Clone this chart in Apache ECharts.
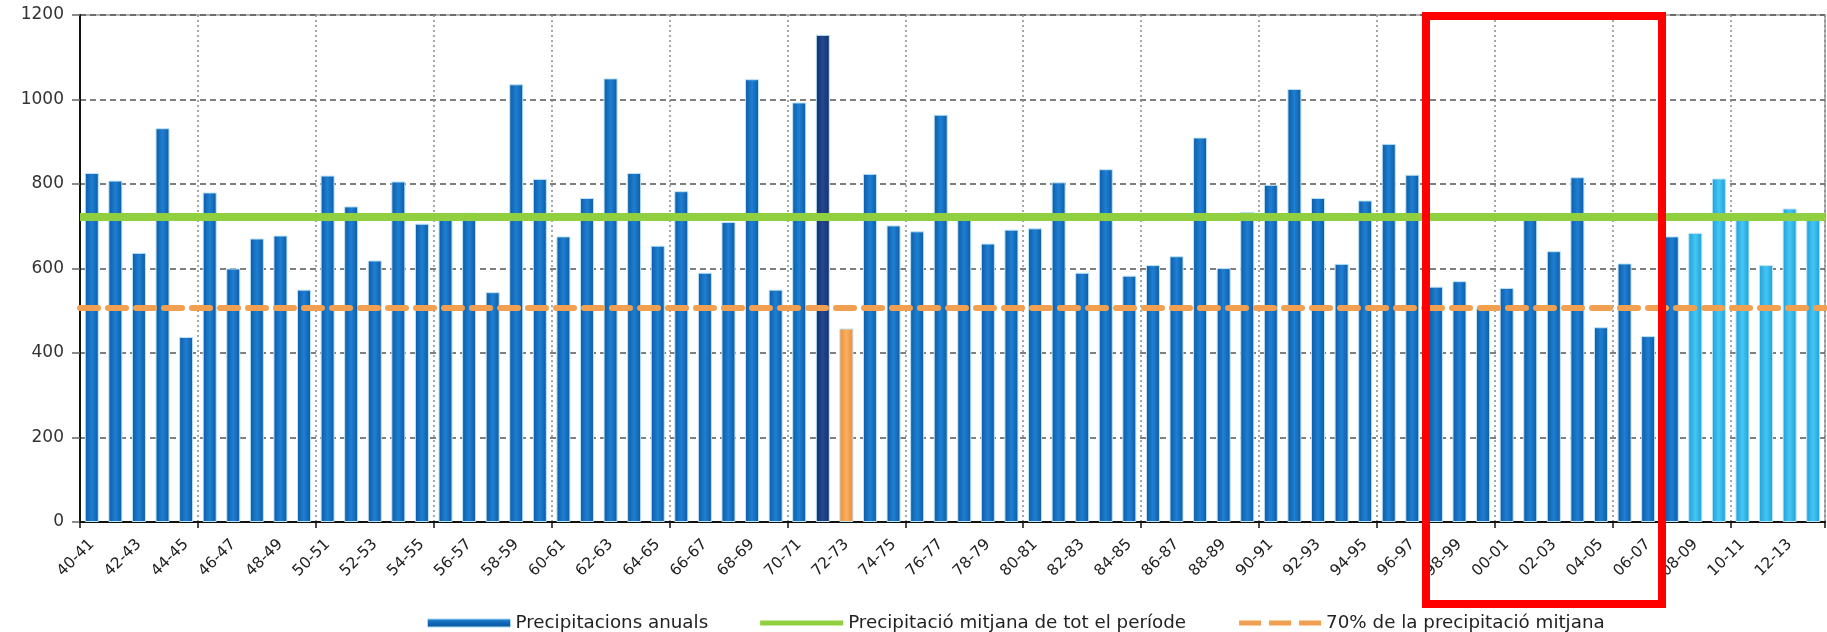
<!DOCTYPE html>
<html>
<head>
<meta charset="utf-8">
<script src="https://cdn.jsdelivr.net/npm/echarts@6/dist/echarts.min.js"></script>
<style>
html,body{margin:0;padding:0;background:#fff;}
#chart{width:1827px;height:632px;}
</style>
</head>
<body>
<div id="chart"></div>
<script>
const CATEGORIES = [
  '40-41','41-42','42-43','43-44','44-45','45-46','46-47','47-48','48-49','49-50',
  '50-51','51-52','52-53','53-54','54-55','55-56','56-57','57-58','58-59','59-60',
  '60-61','61-62','62-63','63-64','64-65','65-66','66-67','67-68','68-69','69-70',
  '70-71','71-72','72-73','73-74','74-75','75-76','76-77','77-78','78-79','79-80',
  '80-81','81-82','82-83','83-84','84-85','85-86','86-87','87-88','88-89','89-90',
  '90-91','91-92','92-93','93-94','94-95','95-96','96-97','97-98','98-99','99-00',
  '00-01','01-02','02-03','03-04','04-05','05-06','06-07','07-08','08-09','09-10',
  '10-11','11-12','12-13','13-14'
];
const PRECIP = [
  826, 808, 637, 932, 438, 780, 600, 671, 678, 550,
  820, 747, 619, 806, 706, 716, 732, 544, 1036, 812,
  676, 767, 1050, 826, 654, 783, 590, 710, 1048, 550,
  993, 1153, 458, 824, 702, 688, 964, 716, 659, 692,
  695, 804, 590, 835, 583, 608, 629, 910, 601, 734,
  798, 1025, 767, 611, 761, 895, 822, 557, 570, 507,
  554, 720, 641, 816, 461, 612, 440, 676, 684, 813,
  728, 608, 742, 725
];
const MEAN = 723;
const MEAN70 = 506;
const Y_MIN = 0, Y_MAX = 1200, Y_STEP = 200;
const SERIES_NAMES = ['Precipitacions anuals', 'Precipitació mitjana de tot el període', '70% de la precipitació mitjana'];
const DARK_YEAR = '71-72';
const ORANGE_YEAR = '72-73';
const LIGHT_FROM = '08-09';

const GREEN = '#90cf40';
const ORANGE = '#f0a050';

const G = echarts.graphic.LinearGradient;
const blueGrad = new G(0,0,1,0,[{offset:0,color:'#0b5aa5'},{offset:0.5,color:'#1f7fd2'},{offset:1,color:'#0b5aa5'}]);
const blueLegend = new G(0,0,0,1,[{offset:0,color:'#2a88d8'},{offset:0.5,color:'#0f64b4'},{offset:1,color:'#0b56a0'}]);
const navyGrad = new G(0,0,1,0,[{offset:0,color:'#14306b'},{offset:0.5,color:'#24478f'},{offset:1,color:'#14306b'}]);
const orangeGrad = new G(0,0,1,0,[{offset:0,color:'#ee8a32'},{offset:0.5,color:'#f9b060'},{offset:1,color:'#ee8a32'}]);
const cyanGrad = new G(0,0,1,0,[{offset:0,color:'#1a9fda'},{offset:0.5,color:'#46c6f2'},{offset:1,color:'#1a9fda'}]);

const lightIdx = CATEGORIES.indexOf(LIGHT_FROM);
const barData = PRECIP.map((v, i) => {
  const c = CATEGORIES[i];
  let col = blueGrad;
  if (c === DARK_YEAR) col = navyGrad;
  else if (c === ORANGE_YEAR) col = orangeGrad;
  else if (i >= lightIdx) col = cyanGrad;
  return { value: v, itemStyle: { color: col } };
});

// legend icons (83 x 8 boxes; tiny corner marks keep the box size)
const corners = 'M0,0h0.01v0.01h-0.01z M82.99,7.99h0.01v0.01h-0.01z ';
const ICON_GREEN = 'path://' + corners + 'M0,1.5h83v5h-83z';
const ICON_DASH = 'path://' + corners + 'M1,1.5h22v5h-22z M31,1.5h22v5h-22z M61,1.5h22v5h-22z';

const chart = echarts.init(document.getElementById('chart'), null, {renderer: 'canvas'});
chart.setOption({
  backgroundColor: '#fff',
  animation: false,
  grid: { left: 80, right: 2, top: 15, bottom: 110, show: true, borderColor: '#9a9a9a', borderWidth: 1.5, backgroundColor: 'transparent' },
  legend: {
    left: 422, top: 609,
    itemWidth: 83, itemHeight: 8, itemGap: 52,
    textStyle: { fontFamily: 'DejaVu Sans', fontSize: 18.3, color: '#222' },
    data: [
      { name: SERIES_NAMES[0], icon: 'rect', itemStyle: { color: blueLegend, borderColor: '#a9dcf2', borderWidth: 1 } },
      { name: SERIES_NAMES[1], icon: ICON_GREEN, itemStyle: { color: GREEN }, lineStyle: { color: GREEN, width: 0.5 } },
      { name: SERIES_NAMES[2], icon: ICON_DASH, itemStyle: { color: ORANGE }, lineStyle: { color: ORANGE, width: 0.5 } }
    ]
  },
  xAxis: {
    type: 'category',
    data: CATEGORIES,
    boundaryGap: true,
    axisLine: { show: true, lineStyle: { color: '#111', width: 2 } },
    axisTick: { show: true, interval: 4, length: 6, lineStyle: { color: '#111', width: 1.5 } },
    axisLabel: { interval: 1, rotate: 45, margin: 20, fontFamily: 'DejaVu Sans', fontSize: 15.5, color: '#222' },
    splitLine: { show: true, interval: 4, lineStyle: { type: [2, 3], color: '#8a8a8a', width: 1.5 } }
  },
  yAxis: {
    type: 'value', min: Y_MIN, max: Y_MAX, interval: Y_STEP,
    axisLine: { show: true, lineStyle: { color: '#111', width: 2 } },
    axisTick: { show: true, length: 8, lineStyle: { color: '#666', width: 1.5 } },
    axisLabel: { margin: 16, fontFamily: 'DejaVu Sans', fontSize: 17, color: '#333', formatter: (v) => String(v) },
    splitLine: { show: true, lineStyle: { type: [6, 4], color: '#555', width: 1.5 } }
  },
  series: [
    {
      name: SERIES_NAMES[0], type: 'bar', data: barData, barWidth: 14,
      itemStyle: { color: blueGrad, borderColor: '#bfe4f4', borderWidth: 1 },
      z: 2, silent: true
    },
    {
      name: SERIES_NAMES[1], type: 'line', data: [], symbol: 'none',
      itemStyle: { color: GREEN },
      lineStyle: { color: GREEN, width: 6 },
      z: 4, silent: true,
      markLine: {
        silent: true, symbol: 'none', label: { show: false },
        lineStyle: { color: GREEN, width: 8, type: 'solid', opacity: 1 },
        emphasis: { disabled: true },
        data: [{ yAxis: MEAN }]
      }
    },
    {
      name: SERIES_NAMES[2], type: 'line', data: [], symbol: 'none',
      itemStyle: { color: ORANGE },
      lineStyle: { color: ORANGE, width: 6, type: [18, 9], cap: 'round' },
      z: 5, silent: true,
      markLine: {
        silent: true, symbol: 'none', label: { show: false },
        lineStyle: { color: ORANGE, width: 6, type: [18, 10], cap: 'round', opacity: 1 },
        emphasis: { disabled: true },
        data: [{ yAxis: MEAN70 }]
      }
    }
  ],
  graphic: [
    {
      type: 'rect', z: 100, silent: true,
      shape: { x: 1426, y: 16, width: 236, height: 588 },
      style: { fill: 'none', stroke: '#ff0000', lineWidth: 8 }
    }
  ]
});
</script>
</body>
</html>
